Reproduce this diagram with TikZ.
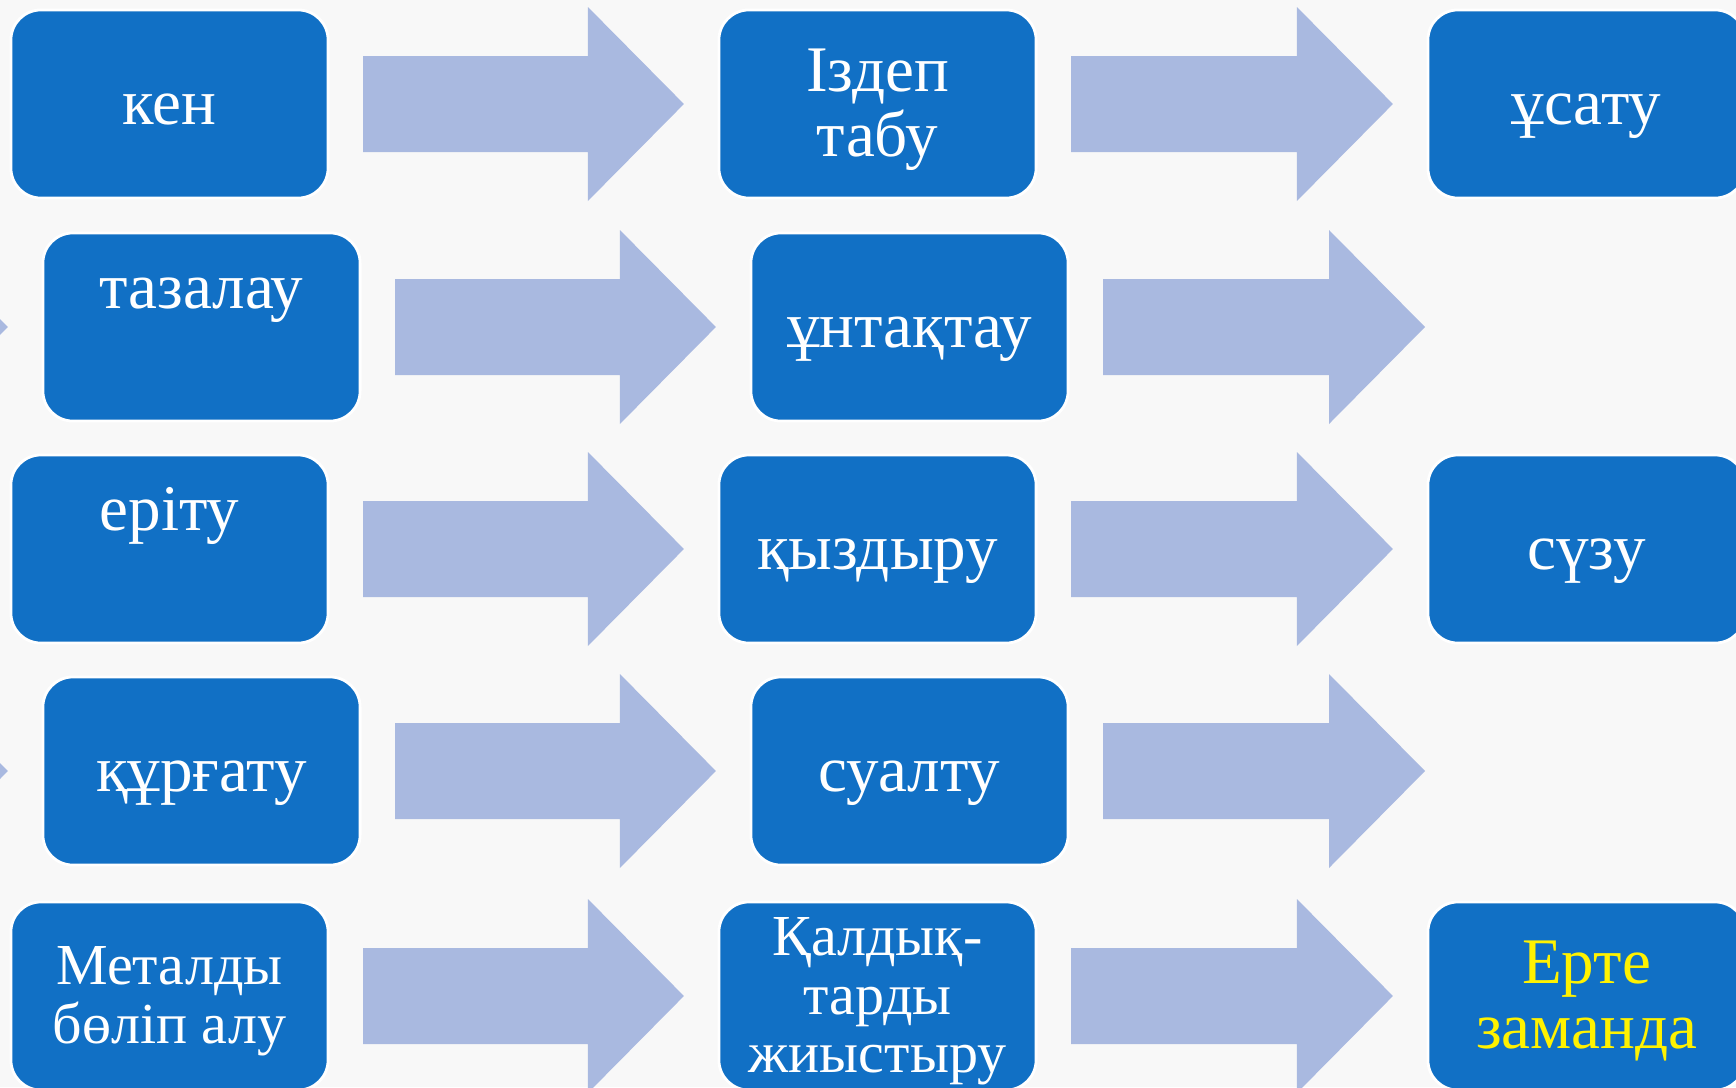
\documentclass[tikz,border=0pt]{standalone}
\usepackage{fontspec}
\setmainfont{Liberation Serif}
\usetikzlibrary{calc}

\definecolor{boxblue}{HTML}{1170C5}
\definecolor{arrowblue}{HTML}{A9B9E0}
\definecolor{slidebg}{HTML}{F8F8F8}

% struts: top of first line, bottom of last line
\newcommand{\tops}{\rule{0pt}{0.87em}}
\newcommand{\bots}{\rule[-0.25em]{0pt}{0.25em}}
% block arrow from one anchor to the next
\newcommand{\blockarrow}[2]{%
	\fill[arrowblue] ($(#1)+(35,-48)$) -- ($(#2)+(-131,-48)$) -- ($(#2)+(-131,-97)$)
		-- ($(#2)+(-35,0)$) -- ($(#2)+(-131,97)$) -- ($(#2)+(-131,48)$)
		-- ($(#1)+(35,48)$) -- cycle;}

\begin{document}
\begin{tikzpicture}[x=0.01cm, y=-0.01cm, procbox/.style={rectangle, rounded corners=0.3cm, fill=boxblue, draw=white, line width=0.8pt, minimum width=3.17cm, minimum height=1.88cm, inner sep=0pt, outer sep=0pt, text=white, align=center, font=\fontsize{18.5}{18.5}\selectfont}, smalltext/.style={font=\fontsize{16.5}{16.5}\selectfont}]
	
	\useasboundingbox (0,0) rectangle (1736,1087);
	\clip (0,0) rectangle (1736,1087);
	\fill[slidebg] (0,0) rectangle (1736,1087);
	
	% Row 1
	\node[procbox] (ken) at (169.5,104) {\tops кен\bots};
	\node[procbox] (izdep) at (877.5,104) {\tops Іздеп\\табу\bots};
	\node[procbox] (usatu) at (1586.5,104) {\tops ұсату\bots};
	% Row 2
	\coordinate (rowtwoin) at (-348,327);
	\node[procbox] (tazalau) at (201.5,327) {\tops тазалау\\[0.2em]\bots};
	\node[procbox] (untaqtau) at (909.5,327) {\tops ұнтақтау\bots};
	\coordinate (rowtwoout) at (1460,327);
	% Row 3
	\node[procbox] (eritu) at (169.5,549) {\tops еріту\\[0.2em]\bots};
	\node[procbox] (qyzdyru) at (877.5,549) {\tops қыздыру\bots};
	\node[procbox] (suzu) at (1586.5,549) {\tops сүзу\bots};
	% Row 4
	\coordinate (rowfourin) at (-348,771);
	\node[procbox] (qurgatu) at (201.5,771) {\tops құрғату\bots};
	\node[procbox] (sualtu) at (909.5,771) {\tops суалту\bots};
	\coordinate (rowfourout) at (1460,771);
	% Row 5
	\node[procbox, smalltext] (metaldy) at (169.5,996) {\tops Металды\\бөліп алу\bots};
	\node[procbox, smalltext] (qaldyq) at (877.5,996) {\tops Қалдық-\\тарды\\жиыстыру\bots};
	\node[procbox, text=yellow] (erte) at (1586.5,996) {\tops Ерте\\заманда\bots};
	
	% Arrows
	\blockarrow{ken.east}{izdep.west}
	\blockarrow{izdep.east}{usatu.west}
	\blockarrow{rowtwoin}{tazalau.west}
	\blockarrow{tazalau.east}{untaqtau.west}
	\blockarrow{untaqtau.east}{rowtwoout}
	\blockarrow{eritu.east}{qyzdyru.west}
	\blockarrow{qyzdyru.east}{suzu.west}
	\blockarrow{rowfourin}{qurgatu.west}
	\blockarrow{qurgatu.east}{sualtu.west}
	\blockarrow{sualtu.east}{rowfourout}
	\blockarrow{metaldy.east}{qaldyq.west}
	\blockarrow{qaldyq.east}{erte.west}
\end{tikzpicture}
\end{document}
